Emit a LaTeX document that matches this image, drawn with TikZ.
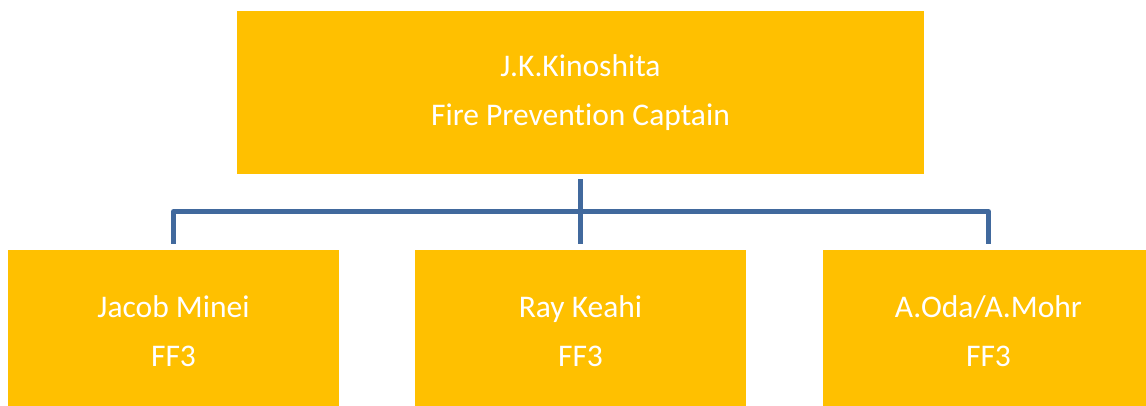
\documentclass[tikz,border=0pt]{standalone}
\usepackage{fontspec}
\setmainfont{Carlito}[Ligatures=NoCommon]
\definecolor{boxyellow}{HTML}{FFC000}
\definecolor{linkblue}{HTML}{41699D}
\begin{document}
\begin{tikzpicture}[x=1pt,y=-1pt,
  box/.style={fill=boxyellow, draw=none, inner sep=0pt, text=white, align=center,
    font=\fontsize{31.5}{49}\selectfont},
  topbox/.style={box, minimum width=687pt, minimum height=163pt},
  childbox/.style={box, minimum width=331pt, minimum height=162pt},
  link/.style={draw=linkblue, line width=5pt, line join=round}]
\useasboundingbox (0,0) rectangle (1146,406);
\clip (0,0) rectangle (1146,406);
\node[topbox] (top) at (580.5,92.5) {J.K.Kinoshita\\Fire Prevention Captain};
\node[childbox] (c1) at (173.5,331) {Jacob Minei\\FF3};
\node[childbox] (c2) at (580.5,331) {Ray Keahi\\FF3};
\node[childbox] (c3) at (988.5,331) {A.Oda/A.Mohr\\FF3};
\coordinate (hub) at (580.5,211.5);
\draw[link] ([yshift=-5pt]top.south) -- ([yshift=6pt]c2.north);
\draw[link] ([yshift=6pt]c1.north) |- (hub) -| ([yshift=6pt]c3.north);
\end{tikzpicture}
\end{document}
